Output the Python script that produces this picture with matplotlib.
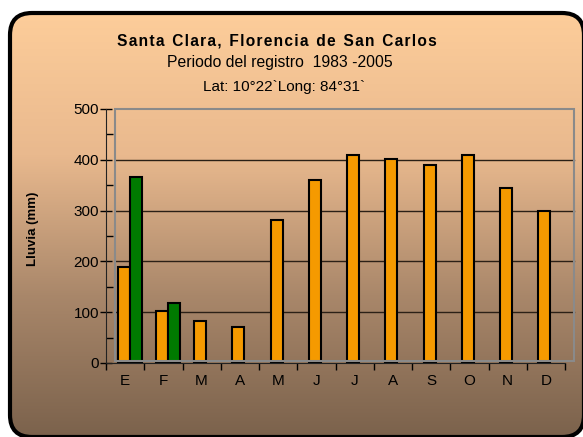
import numpy as np
import matplotlib
matplotlib.use("Agg")
import matplotlib.pyplot as plt
from matplotlib.patches import FancyBboxPatch, Rectangle
from matplotlib.colors import LinearSegmentedColormap

plt.rcParams['font.family'] = ['Liberation Sans', 'DejaVu Sans']

meses = ['E', 'F', 'M', 'A', 'M', 'J', 'J', 'A', 'S', 'O', 'N', 'D']
lluvia_prom = [188, 103, 83, 71, 281, 360, 410, 402, 390, 410, 345, 300]
lluvia_obs = [367, 118]  # solo E y F
yticks = [0, 100, 200, 300, 400, 500]

W, H = 583, 437
fig = plt.figure(figsize=(W / 100, H / 100), dpi=100)

# fondo con marco redondeado y degradado
bg = fig.add_axes([0, 0, 1, 1], zorder=-5)
bg.set_xlim(0, W)
bg.set_ylim(H, 0)
bg.axis('off')
caja = FancyBboxPatch((10, 13), 574, 424, boxstyle="round,pad=0,rounding_size=22",
                      fc='none', ec='black', lw=3, zorder=3)
bg.add_patch(caja)
cmap = LinearSegmentedColormap.from_list('fondo', ['#fdcd9a', '#e9b98e', '#a9876a', '#7b624c'])
grad = np.linspace(0, 1, 256).reshape(-1, 1)
im = bg.imshow(grad, cmap=cmap, extent=[10, 584, 437, 13], aspect='auto', zorder=1)
im.set_clip_path(caja)

# textos del titulo
titulo = 'Santa Clara, Florencia de San Carlos'
titulo_esp = '\u200a'.join(titulo).replace('\u200a \u200a', '\u2002')
fig.text(277 / W, 1 - 41 / H, titulo_esp, ha='center', va='center', fontsize=11.2, fontweight='bold')
fig.text(280 / W, 1 - 62 / H, 'Periodo del registro  1983 -2005', ha='center', va='center', fontsize=11.3)
fig.text(284 / W, 1 - 87 / H, 'Lat: 10°22`Long: 84°31`', ha='center', va='center', fontsize=11)

# ejes
x0, x1, ytop, y0 = 106, 565, 109, 363
ax = fig.add_axes([x0 / W, 1 - y0 / H, (x1 - x0) / W, (y0 - ytop) / H])
ax.patch.set_alpha(0)
ax.set_xlim(0, 12)
ax.set_ylim(0, 500)

# pared del fondo (gris) y lineas de division
fig.add_artist(Rectangle((115 / W, 1 - 361 / H), (574 - 115) / W, (361 - 109) / H,
                         transform=fig.transFigure, fc='none', ec='#8a8a8a', lw=1.5, zorder=0.5))
gx0 = (115 - x0) / (x1 - x0)
gx1 = (574 - x0) / (x1 - x0)
for v in yticks[1:-1]:
    ax.plot([gx0, gx1], [v, v], color='#2b2016', lw=1, transform=ax.get_yaxis_transform(),
            clip_on=False, zorder=1)

w = 0.31
xs = np.arange(12) + 0.5 - 0.04
ax.bar(xs, lluvia_prom, width=w, color='#f59a00', edgecolor='black', lw=1.5, zorder=3)
ax.bar(xs[:len(lluvia_obs)] + w + 0.01, lluvia_obs, width=w, color='#007a00',
       edgecolor='black', lw=1.5, zorder=3)

for s in ['top', 'right']:
    ax.spines[s].set_visible(False)
ax.spines['left'].set_color('#222222')
ax.spines['bottom'].set_color('#222222')
ax.set_yticks(yticks)
ax.set_yticks(np.arange(50, 500, 100), minor=True)
ax.tick_params(axis='y', which='major', direction='inout', length=8, width=1, labelsize=11, pad=1)
ax.tick_params(axis='y', which='minor', direction='in', length=5, width=1)
ax.set_xticks(np.arange(13), minor=True)
ax.set_xticks(np.arange(12) + 0.5)
ax.set_xticklabels(meses)
ax.tick_params(axis='x', which='major', length=0, labelsize=11, pad=8)
ax.tick_params(axis='x', which='minor', direction='out', length=5, width=1)

fig.text(33 / W, 1 - 229 / H, 'Lluvia (mm)', rotation=90, ha='center', va='center',
         fontsize=9.5, fontweight='bold')

fig.savefig('out.png', dpi=100)
